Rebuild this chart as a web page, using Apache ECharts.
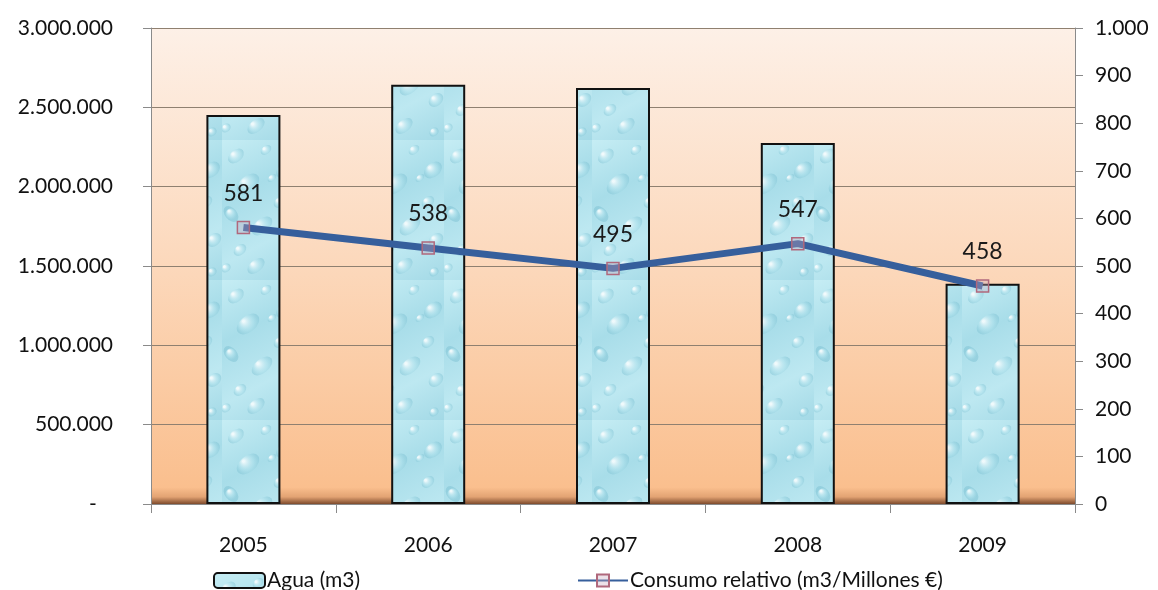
<!DOCTYPE html>
<html>
<head>
<meta charset="utf-8">
<script src="https://cdn.jsdelivr.net/npm/echarts@6/dist/echarts.min.js"></script>
<style>html,body{margin:0;padding:0;background:#fff;}#c{width:1158px;height:590px;}</style>
</head>
<body>
<div id="c"></div>
<script>
const categories = ['2005', '2006', '2007', '2008', '2009'];
const agua = [2452000, 2642000, 2622000, 2275000, 1388000];
const consumo = [581, 538, 495, 547, 458];
const leftTicks = [0, 500000, 1000000, 1500000, 2000000, 2500000, 3000000];
const rightTicks = [0, 100, 200, 300, 400, 500, 600, 700, 800, 900, 1000];

function dots(v) {
  return String(Math.round(v)).replace(/\B(?=(\d{3})+(?!\d))/g, '.');
}

// water-drop texture for bars (decorative fill only)
function makeTexture() {
  const c = document.createElement('canvas');
  c.width = 74; c.height = 140;
  const g = c.getContext('2d');
  const bg = g.createLinearGradient(0, 0, 74, 140);
  bg.addColorStop(0, '#c6edf4');
  bg.addColorStop(0.35, '#a8dde9');
  bg.addColorStop(0.7, '#bde8f1');
  bg.addColorStop(1, '#a3d9e6');
  g.fillStyle = bg;
  g.fillRect(0, 0, 74, 140);
  const drops = [[14,16,9,6],[44,10,6,4],[63,30,10,7],[26,44,13,8],[58,62,7,5],[9,74,6,9],
                 [40,86,12,7],[66,100,8,6],[18,110,7,5],[50,38,5,3],[34,126,10,6],[64,132,5,4],[4,128,5,4]];
  drops.forEach(d => {
    const rg = g.createRadialGradient(d[0]-d[2]*0.35, d[1]-d[3]*0.35, 1, d[0], d[1], d[2]);
    rg.addColorStop(0, 'rgba(255,255,255,0.8)');
    rg.addColorStop(0.55, 'rgba(175,225,236,0.45)');
    rg.addColorStop(1, 'rgba(105,180,200,0.35)');
    g.fillStyle = rg;
    g.beginPath();
    g.ellipse(d[0], d[1], d[2], d[3], -0.7, 0, Math.PI * 2);
    g.fill();
  });
  return c;
}

const chart = echarts.init(document.getElementById('c'));
const font = 'Lato, "Open Sans", sans-serif';
chart.setOption({
  animation: false,
  backgroundColor: '#ffffff',
  grid: {
    left: 151, right: 83, top: 28, bottom: 86,
    show: true, borderWidth: 0,
    backgroundColor: new echarts.graphic.LinearGradient(0, 0, 0, 1, [
      { offset: 0, color: '#fdf0e7' },
      { offset: 0.5, color: '#fcd8bb' },
      { offset: 0.965, color: '#fabf8e' },
      { offset: 0.985, color: '#e3a373' },
      { offset: 1, color: '#7e4b2d' }
    ])
  },
  legend: [
    {
      data: ['Agua (m3)'], left: 208, top: 565, itemWidth: 51, itemHeight: 15, itemGap: 4,
      textStyle: { fontFamily: font, fontSize: 21, color: '#111', padding: [0, 0, 0, -3] }
    },
    {
      data: ['Consumo relativo (m3/Millones €)'], left: 572, top: 565, itemWidth: 50, itemHeight: 15,
      textStyle: { fontFamily: font, fontSize: 21, color: '#111', padding: [0, 0, 0, -3] }
    }
  ],
  xAxis: {
    type: 'category', data: categories, boundaryGap: true,
    axisLine: { lineStyle: { color: '#8a8a8a', width: 1 } },
    axisTick: { show: true, length: 9, lineStyle: { color: '#8a8a8a' } },
    axisLabel: { fontFamily: font, fontSize: 21, color: '#111', margin: 31 }
  },
  yAxis: [
    {
      type: 'value', min: 0, max: 3000000, interval: 500000,
      axisLine: { show: true, lineStyle: { color: '#8a8a8a' } },
      axisTick: { show: true, length: 8, lineStyle: { color: '#8a8a8a' } },
      axisLabel: { fontFamily: font, fontSize: 21, color: '#111', margin: 38,
        formatter: v => v === 0 ? '-   ' : dots(v) },
      splitLine: { show: true, lineStyle: { color: '#8f8070', width: 1 } }
    },
    {
      type: 'value', min: 0, max: 1000, interval: 100,
      axisLine: { show: true, lineStyle: { color: '#8a8a8a' } },
      axisTick: { show: true, length: 8, lineStyle: { color: '#8a8a8a' } },
      axisLabel: { fontFamily: font, fontSize: 21, color: '#111', margin: 20,
        formatter: v => dots(v) },
      splitLine: { show: false }
    }
  ],
  series: [
    {
      name: 'Agua (m3)', type: 'bar', data: agua, yAxisIndex: 0, barWidth: 74,
      itemStyle: { color: { image: makeTexture(), repeat: 'repeat' }, borderColor: '#111', borderWidth: 2 }
    },
    {
      name: 'Consumo relativo (m3/Millones €)', type: 'line', data: consumo, yAxisIndex: 1,
      symbol: 'rect', symbolSize: 12,
      lineStyle: { color: '#365f9c', width: 7 },
      itemStyle: { color: 'rgba(200,170,190,0.35)', borderColor: '#b0687c', borderWidth: 1.5 },
      label: { show: true, position: 'top', distance: 16, fontFamily: font, fontSize: 23, color: '#1a1a1a' },
      z: 5
    }
  ]
});
</script>
</body>
</html>
